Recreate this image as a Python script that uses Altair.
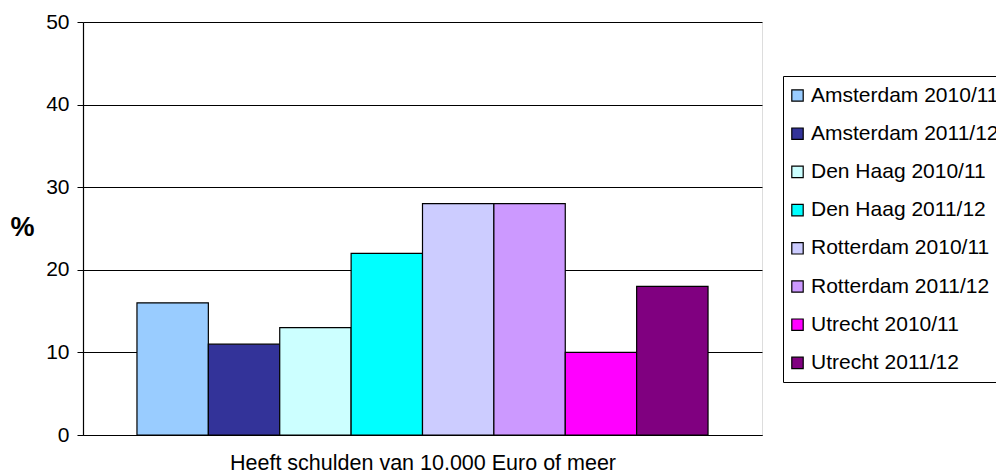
import altair as alt
import pandas as pd

series = ["Amsterdam 2010/11", "Amsterdam 2011/12", "Den Haag 2010/11", "Den Haag 2011/12",
          "Rotterdam 2010/11", "Rotterdam 2011/12", "Utrecht 2010/11", "Utrecht 2011/12"]
values = [16, 11, 13, 22, 28, 28, 10, 18]
colors = ["#99CCFF", "#333399", "#CCFFFF", "#00FFFF", "#CCCCFF", "#CC99FF", "#FF00FF", "#800080"]
category_label = "Heeft schulden van 10.000 Euro of meer"
y_ticks = [0, 10, 20, 30, 40, 50]

df = pd.DataFrame({"series": series, "value": values})
FONT = "Liberation Sans"

bars = alt.Chart(df).mark_bar(stroke="black", strokeWidth=1.2).encode(
    x=alt.X("series:N", sort=series,
            scale=alt.Scale(paddingInner=0, paddingOuter=0.756),
            axis=alt.Axis(labels=False, ticks=False, domainColor="black", domainWidth=1.2,
                          title=category_label, titleFontSize=21.5, titleFontWeight="normal",
                          titleFont=FONT, titleColor="black", titlePadding=17)),
    y=alt.Y("value:Q", scale=alt.Scale(domain=[0, 50], nice=False),
            axis=alt.Axis(values=y_ticks, grid=True, gridColor="black", gridWidth=1.2, gridOpacity=1,
                          domainColor="black", domainWidth=1.2, tickColor="black", tickSize=6,
                          labelFontSize=21, labelFont=FONT, labelColor="black", labelPadding=8,
                          title="%", titleAngle=0, titleFontSize=27, titleFont=FONT,
                          titleFontWeight="bold", titleColor="black", titleAlign="center",
                          titleBaseline="middle", titleX=-61, titleY=205)),
    color=alt.Color("series:N", sort=series,
                    scale=alt.Scale(domain=series, range=colors),
                    legend=alt.Legend(title=None, orient="none", legendX=700, legendY=54,
                                      symbolType="square", symbolSize=130, symbolOffset=-5,
                                      symbolStrokeColor="black", symbolStrokeWidth=1.2,
                                      symbolOpacity=1, labelLimit=400,
                                      labelFontSize=21, labelFont=FONT, labelColor="black",
                                      labelOffset=3, rowPadding=16.2, padding=9,
                                      strokeColor="black", fillColor="white")),
)

chart = bars.properties(
    width=679, height=413,
    autosize=alt.AutoSizeParams(type="none"),
    padding={"left": 75, "top": 14, "right": 234, "bottom": 38},
).configure_view(stroke=None).configure(background="white")

chart.save("out.html", embed_options={"renderer": "svg", "actions": False})
